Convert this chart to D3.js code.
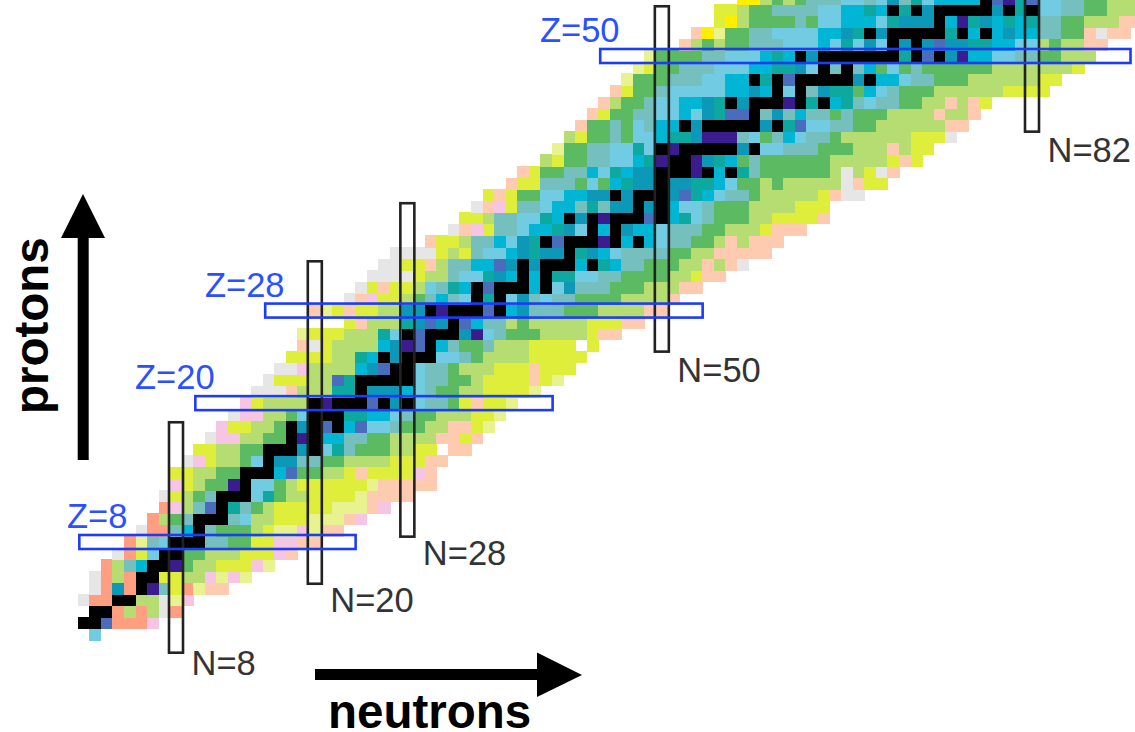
<!DOCTYPE html>
<html>
<head>
<meta charset="utf-8">
<script src="https://cdn.jsdelivr.net/npm/d3@7"></script>
<style>
  html, body { margin: 0; background: #fff; }
  svg { display: block; }
  .magic { font-family: "Liberation Sans", sans-serif; font-size: 34.5px; }
  .axis-label { font-family: "Liberation Sans", sans-serif; font-size: 47.5px; font-weight: bold; }
</style>
</head>
<body>
<svg width="1135" height="732"></svg>
<script>
// decay-mode categories, one letter per cell in the rows below
const modeCodes = ["K", "P", "B", "D", "C", "T", "S", "A", "G", "L", "Y", "W", "F", "R", "O", "E", "H"];
const modeColors = ["#000000", "#3b1a8f", "#4a6cbd", "#0e98b8", "#06b6d4", "#08a9a0", "#6fcbe3", "#75c0bf",
  "#5bbb62", "#b6dd72", "#dfee3a", "#e8f38f", "#ffee00", "#f7c5e4", "#ff9e80", "#ffcbb0", "#e6e6e6"];

// first neutron number of each proton row, Z = index
const rowStart = [1, 0, 1, 0, 1, 1, 2, 3, 4, 5, 6, 7, 7, 8, 8, 9, 10, 11, 12, 13, 14, 15, 16, 17, 18, 19, 19, 23,
  20, 23, 24, 25, 26, 27, 30, 32, 33, 34, 35, 37, 38, 40, 41, 42, 43, 44, 45, 46, 47, 48, 49, 52, 53, 55, 55, 57];

// cells of each proton row, Z = index, "." is an empty cell
const rowCells = [
  "S",
  "KKBOOOR",
  "KKOLOLHO",
  "HOOKKLLHWR",
  "HODOKPAYOWEE",
  "HOLOKKYYLLRWRW",
  "OLACKKPGLLYYYRW",
  "HOYSKKGGLLLYYYRE",
  "OWASKKKAAGGYYRREE",
  "HOOACKAGGGLYWWRWEE",
  "OLGAKKKASLLYYYWWWER",
  "ORLABKTAGLYYYYYWWWER",
  "HYLGAKKKSTGLLYYYYWEEEE",
  "RYLGGPKSSGLYYYYYYWEEEEE",
  "YYLLGGKKKCBGGLLYEYYYYRE",
  "HRYLLGSKDDAAGGLLLLYYYEE",
  "YYLLGGKKKDKSTAGGGLLYY.EE",
  "HRRLLGGKPKCCAAGGLLLLEEYE",
  "RYYLLGKDKBKCBSSAGGLLEEYW",
  "HRRLLGSKKKTTCCSAGGLLLYYW",
  "RYLLLLKPKKKBKDKSAAGYEYYW",
  "HHHELLLTTKDDDCSAGGLLYYYYW",
  "HYYYLLBTKKKKKSAAGGLYYYYEYW",
  "HHRLLLLCDBKKSAAGLLLYYYEYYY",
  "YYYYLLTCKDKKKSSAGLLLLYYYYY",
  "EHYLLLLCDPBKCAGGALLLYYYY.Y",
  "WYYYLLLTSKBKKKDPSAGGGLLLLYEE",
  "YELLLTDBDKBCAALGLLLLLYYYEE",
  "EWYEYYLLDDKPKKKBKCDAAAGGGLLLLEE",
  "HERYYLGACASKTKSDASAAGGGGLLLLE",
  "HYEYYLSATCKBKKKCKSDAAAGGGLLLEE",
  "HHHHYLLASSTDCKCKTTSSAAGGGGLLYEE",
  "HHYYELAACCBDKDKKKCKTCAAGGGLLELEH",
  "HHHHYLYASSCDTDDKTDCSAAAAGGLLEEEEE",
  "EYYLAACSDTKBKKKPKCKCSAAGGLELEEE",
  "HERYAASCCTDSKCKDCCSAAAGGLLLYEEE",
  "YYLAASSTCKDKPKKKBKCTSAGGGLLYYYYE",
  "HERYAASCCATADDKDKCSSAGGGLLLLYYY",
  "YEYGGSSCCDDKDKKKDBTCSAAGLLLLLYEHH",
  "EYYAAAGSGCTDDKDDTTCSGGLGLLLLLHEYY",
  "EYGGAACSTCDDKKKPKCKTAGGGGGGLHLYHE",
  "LYGGAASSCTPKKPDTCGAGGGGGGLLLLLYEY",
  "WGGAASSTSKPKKKKKDKSSAAAGGGLLLELYY",
  "LYGGAGSSCTTDPPPASGACSAAGLLLLLLYYYH",
  "EGGAGSACCKDKKKKKDKTBSSAAGGLLLLLLEE",
  "EYGGAASSCSDTBBKADACAAGAGGGLLLLELLE",
  "ELGGASSCCDTKDKKKPKTKCTASAAGGLLELEY",
  "EYGGASSSSSCCDCKSKADTTGCSAGGGLLLLLLYYYY",
  "WGGGAAASSCCKTKBKKKKKDKCCSAAGGGLLLLLLYY",
  "WYGGAAASSSCCTTDSKAKACGSGAGGGGGGLLLLLLLY",
  "WGGGGAASSSCTCKDKKKKKKKTKBKDPCCSSAAGGLLL",
  "ELGLGGAAASSSCSTSDSKDKDBDDTTCCSSLGLLEE",
  "EFWGGAASSSSCCDTKDKKKKKTKCKCDCCAAGGEHEE",
  "YFLGGGGAGSSCCCSTDDDKCPTDCTCTAAGGLLLEE",
  "YYLGGAAAASSCCTCKTKDKKKKKDKTKSSAAGGLLL",
  "FFLGLGAAASSASDATSCCCCKBPTBSSAAGGLLL"
];

// magic numbers and how far their boxes run along the other axis
const magicN = [8, 20, 28, 50, 82];
const magicNFrom = [-1.68, 4.28, 8.35, 24.34, 43.35];
const magicNTo = [18.46, 32.37, 37.39, 54.41, 55.8];
const magicZ = [8, 20, 28, 50];
const magicZFrom = [-0.47, 9.56, 15.6, 44.56];
const magicZTo = [23.64, 40.67, 53.64, 90.63];

const svg = d3.select("svg");

const x = d3.scaleLinear().domain([8, 82]).range([176, 1032]);
const y = d3.scaleLinear().domain([8, 50]).range([542, 56]);
const color = d3.scaleOrdinal().domain(modeCodes).range(modeColors);
const cell = x(1) - x(0);

const cells = [];
rowCells.forEach((row, z) => {
  row.split("").forEach((code, i) => {
    if (code !== ".") cells.push({ n: rowStart[z] + i, z: z, code: code });
  });
});

const defs = svg.append("defs");
defs.append("filter").attr("id", "soft")
  .attr("x", "-2%").attr("y", "-2%").attr("width", "104%").attr("height", "104%")
  .append("feGaussianBlur").attr("stdDeviation", 0.6);

svg.append("g").attr("filter", "url(#soft)")
  .selectAll("rect")
  .data(cells)
  .enter()
  .append("rect")
  .attr("x", (d) => x(d.n) - cell / 2)
  .attr("y", (d) => y(d.z) - cell / 2)
  .attr("width", cell + 0.6)
  .attr("height", cell + 0.6)
  .attr("shape-rendering", "crispEdges")
  .attr("fill", (d) => color(d.code));

// box extents above are the outer edges, so pull the stroke centre in
const half = 7;
const boxStroke = 2.6;
const inset = boxStroke / 2;

// neutron boxes
svg.append("g").selectAll("rect")
  .data(magicN)
  .enter()
  .append("rect")
  .attr("x", (d) => x(d) - half)
  .attr("y", (d, i) => y(magicNTo[i]) + inset)
  .attr("width", half * 2)
  .attr("height", (d, i) => y(magicNFrom[i]) - y(magicNTo[i]) - boxStroke)
  .attr("fill", "none")
  .attr("stroke", "#222")
  .attr("stroke-width", boxStroke);

// proton boxes
svg.append("g").selectAll("rect")
  .data(magicZ)
  .enter()
  .append("rect")
  .attr("x", (d, i) => x(magicZFrom[i]) + inset)
  .attr("y", (d) => y(d) - half)
  .attr("width", (d, i) => x(magicZTo[i]) - x(magicZFrom[i]) - boxStroke)
  .attr("height", half * 2)
  .attr("fill", "none")
  .attr("stroke", "#1c3cf5")
  .attr("stroke-width", boxStroke);

// box labels sit under the N boxes and up-left of the Z boxes
const nLabelDrop = [21, 27, 27, 29, 29];
const zLabelShift = [-11, -59, -59, -59];

svg.append("g").selectAll("text")
  .data(magicN)
  .enter()
  .append("text")
  .attr("class", "magic")
  .attr("x", (d) => x(d) + 15.5)
  .attr("y", (d, i) => y(magicNFrom[i]) + nLabelDrop[i])
  .attr("fill", "#333")
  .text((d) => "N=" + d);

svg.append("g").selectAll("text")
  .data(magicZ)
  .enter()
  .append("text")
  .attr("class", "magic")
  .attr("x", (d, i) => x(magicZFrom[i]) + zLabelShift[i])
  .attr("y", (d) => y(d) - 14)
  .attr("fill", "#2a50ff")
  .text((d) => "Z=" + d);

// axis arrows
svg.append("path").attr("d", "M77.7,460V238H61L83,194L105,238H88.7V460Z").attr("fill", "#000");
svg.append("path").attr("d", "M315,669H537V652.5L582,675L537,697V680H315Z").attr("fill", "#000");

svg.append("text")
  .attr("class", "axis-label")
  .attr("transform", "translate(47.5,414) rotate(-90)")
  .text("protons");

svg.append("text")
  .attr("class", "axis-label")
  .attr("x", 328)
  .attr("y", 728)
  .text("neutrons");
</script>
</body>
</html>
